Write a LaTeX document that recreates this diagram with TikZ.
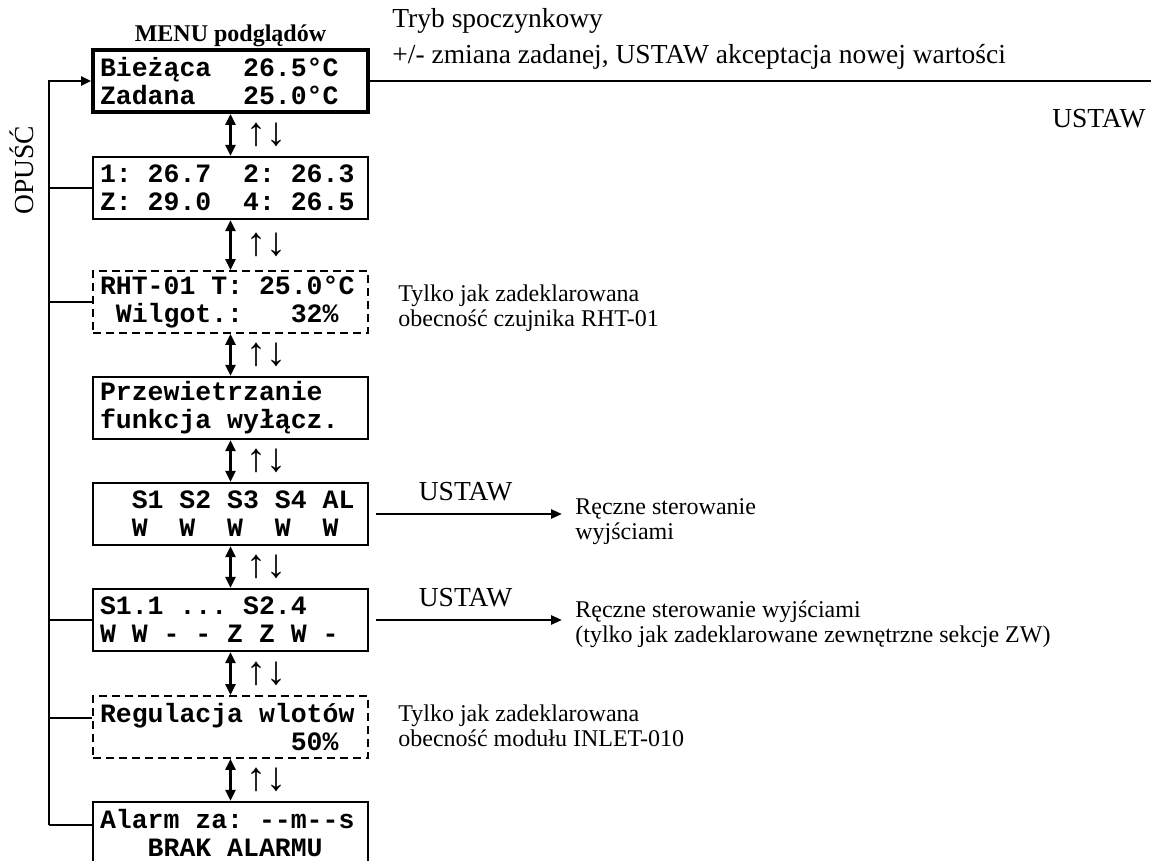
\documentclass[tikz,border=0pt]{standalone}
\usepackage{fontspec}
\setmainfont{Liberation Serif}
\setmonofont{Liberation Mono}
\usetikzlibrary{arrows.meta,positioning}

\newcommand{\lcdfont}{\fontsize{13.25pt}{14pt}\selectfont\ttfamily\bfseries}
\newcommand{\notefont}{\fontsize{12pt}{12.5pt}\selectfont}
\newcommand{\bigfont}{\fontsize{13.75pt}{14pt}\selectfont}
% fixed blank of n display cells
\newcommand{\sk}[1]{\hspace*{#1\dimexpr 0.6em\relax}}

\tikzset{
  lcd/.style={draw, line width=1.1pt, minimum width=137.5pt, minimum height=31pt,
    inner xsep=3.5pt, inner ysep=0pt, text width=130.5pt, align=left, font=\lcdfont},
  lcdmain/.style={lcd, line width=2pt},
  lcdopt/.style={lcd, line width=0.9pt, dash pattern=on 4pt off 2.5pt},
  note/.style={font=\notefont, align=left, inner sep=0pt},
  label/.style={font=\bigfont, inner sep=0pt},
  ud/.style={font=\fontsize{20pt}{20pt}\selectfont, inner sep=0pt, midway, right=7.5pt},
  updown/.style={{Triangle[length=5.5pt,width=5pt]}-{Triangle[length=5.5pt,width=5pt]}, line width=1.3pt},
  setarrow/.style={-{Triangle[length=5.5pt,width=4.5pt]}, line width=1.3pt, shorten <=3.5pt},
  back/.style={-{Triangle[length=5pt,width=4.5pt]}, line width=1.2pt},
  branch/.style={line width=1pt}
}

\begin{document}
\begin{tikzpicture}[x=0.5pt,y=-0.5pt]
    \clip (0,0) rectangle (1151,861);

    % Display screens (top to bottom)
    \node[lcdmain] (cur) at (230.5,81) {Bieżąca\sk{2}26.5°C\\Zadana\sk{3}25.0°C};
    \node[lcd] (temps) at (230.5,188) {1:\sk{1}26.7\sk{2}2:\sk{1}26.3\\Z:\sk{1}29.0\sk{2}4:\sk{1}26.5};
    \node[lcdopt] (rht) at (230.5,302) {RHT-01\sk{1}T:\sk{1}25.0°C\\\sk{1}Wilgot.:\sk{3}32\%};
    \node[lcd] (vent) at (230.5,408) {Przewietrzanie\\funkcja\sk{1}wyłącz.};
    \node[lcd] (outs) at (230.5,514) {\sk{2}S1\sk{1}S2\sk{1}S3\sk{1}S4\sk{1}AL\\\sk{2}W\sk{2}W\sk{2}W\sk{2}W\sk{2}W};
    \node[lcd] (zw) at (230.5,620) {S1.1\sk{1}...\sk{1}S2.4\\W\sk{1}W\sk{1}-\sk{1}-\sk{1}Z\sk{1}Z\sk{1}W\sk{1}-};
    \node[lcdopt] (inlet) at (230.5,727) {Regulacja\sk{1}wlotów\\\sk{12}50\%};
    \node[lcd] (alarm) at (230.5,833) {Alarm\sk{1}za:\sk{1}-{}-m-{}-s\\\sk{3}BRAK\sk{1}ALARMU};

    % Title and texts
    \node[note, anchor=base] (menu) at (230.5,42) {\bfseries MENU podglądów};
    \node[label, anchor=base west] (tryb) at (392,28) {Tryb spoczynkowy};
    \node[label, anchor=base west] (hint) at (392,64) {+/- zmiana zadanej, USTAW akceptacja nowej wartości};
    \node[label, anchor=base east] (ustawtop) at (1146,128) {USTAW};
    \node[note, anchor=west] (rhtnote) at (398,308) {Tylko jak zadeklarowana\\obecność czujnika RHT-01};
    \node[note, anchor=west] (inletnote) at (398,726) {Tylko jak zadeklarowana\\obecność modułu INLET-010};
    \node[note, anchor=west, inner xsep=6.5pt] (manual) at (562,522) {Ręczne sterowanie\\wyjściami};
    \node[note, anchor=west, inner xsep=6.5pt] (manualzw) at (562,624) {Ręczne sterowanie wyjściami\\(tylko jak zadeklarowane zewnętrzne sekcje ZW)};
    \node[label, rotate=90] (opusc) at (22,170) {OPUŚĆ};

    % Up/down navigation
    \draw[updown] (cur.south) -- (temps.north) node[ud] (ud1) {↑↓};
    \draw[updown] (temps.south) -- (rht.north) node[ud] (ud2) {↑↓};
    \draw[updown] (rht.south) -- (vent.north) node[ud] (ud3) {↑↓};
    \draw[updown] (vent.south) -- (outs.north) node[ud] (ud4) {↑↓};
    \draw[updown] (outs.south) -- (zw.north) node[ud] (ud5) {↑↓};
    \draw[updown] (zw.south) -- (inlet.north) node[ud] (ud6) {↑↓};
    \draw[updown] (inlet.south) -- (alarm.north) node[ud] (ud7) {↑↓};

    % USTAW actions
    \draw[setarrow] (outs.east) -- (outs.east -| manual.west) node[label, midway, above=6pt] (ust1) {USTAW};
    \draw[setarrow] (zw.east) -- (zw.east -| manualzw.west) node[label, midway, above=6pt] (ust2) {USTAW};
    \coordinate (rim) at (1151,81);
    \draw[line width=1.2pt] (cur.east) -- (cur.east -| rim);

    % OPUSC return line
    \coordinate (opbot) at (49,825);
    \draw[back] (opbot) |- (cur.west);
    \draw[branch] (temps.west) -- (temps.west -| opbot);
    \draw[branch] (rht.west) -- (rht.west -| opbot);
    \draw[branch] (zw.west) -- (zw.west -| opbot);
    \draw[branch] ([yshift=4.5pt]inlet.west) -- ([yshift=4.5pt]inlet.west -| opbot);
    \draw[branch] ([yshift=4pt]alarm.west) -- (opbot);
\end{tikzpicture}
\end{document}
